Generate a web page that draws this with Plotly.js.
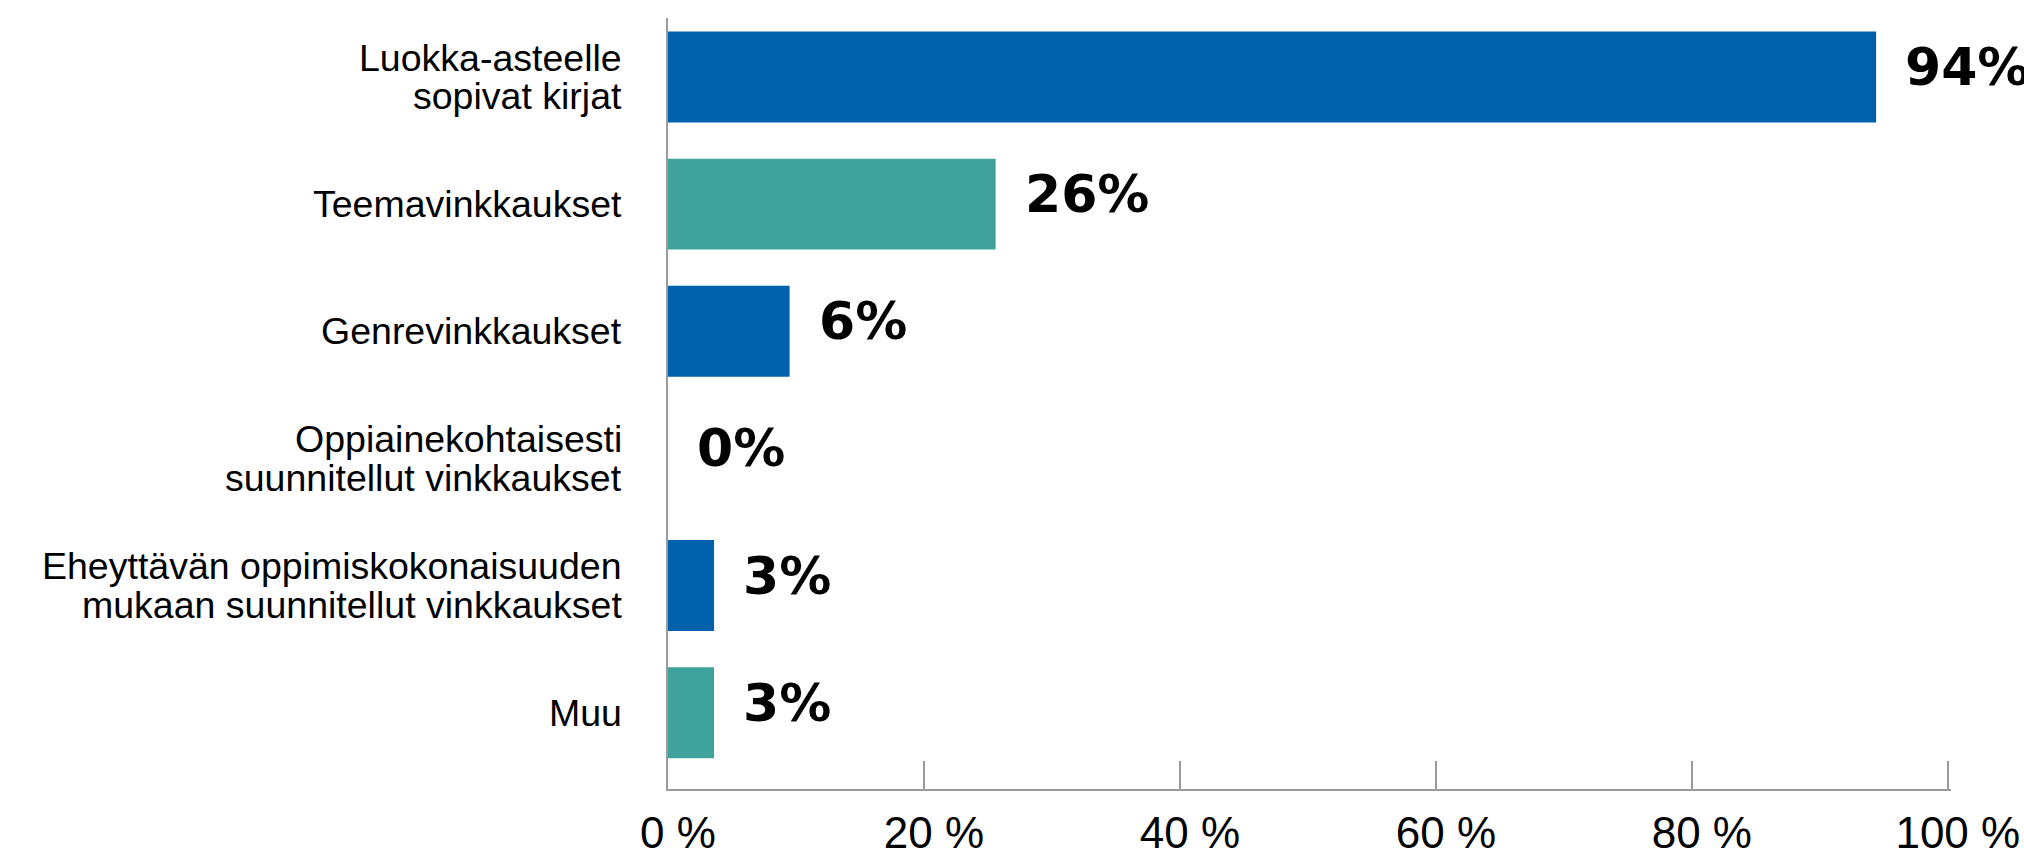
<!DOCTYPE html>
<html>
<head>
<meta charset="utf-8">
<script src="https://cdn.plot.ly/plotly-3.0.1.min.js"></script>
<style>
  html, body { margin: 0; padding: 0; background: #ffffff; }
  #chart { width: 2024px; height: 858px; }
</style>
</head>
<body>
<div id="chart"></div>
<script>
// ---- data ----
var categories = [
  "Luokka-asteelle<br>sopivat kirjat",
  "Teemavinkkaukset",
  "Genrevinkkaukset",
  "Oppiainekohtaisesti<br>suunnitellut vinkkaukset",
  "Eheyttävän oppimiskokonaisuuden<br>mukaan suunnitellut vinkkaukset",
  "Muu"
];
var barValues = [94.4, 25.6, 9.5, 0, 3.6, 3.6];
var valueLabels = ["94%", "26%", "6%", "0%", "3%", "3%"];
var tickValues = [0, 20, 40, 60, 80, 100];
var tickLabels = ["0 %", "20 %", "40 %", "60 %", "80 %", "100 %"];

// ---- style ----
var BLUE = "#0061ad";
var TEAL = "#40a39b";
var barColors = categories.map(function (_, i) { return i % 2 === 0 ? BLUE : TEAL; });
var AXIS_GRAY = "#9b9b9b";
var FONT = "Liberation Sans, Arial, Helvetica, sans-serif";
var BOLD_FONT = "DejaVu Sans, Liberation Sans, Arial, sans-serif";

var trace = {
  type: "bar",
  orientation: "h",
  y: categories.map(function (_, i) { return i; }),
  x: barValues,
  marker: { color: barColors, line: { width: 0 } },
  hoverinfo: "skip",
  showlegend: false
};

var annotations = [];
// value labels
categories.forEach(function (_, i) {
  annotations.push({
    xref: "x", yref: "y",
    x: barValues[i], y: i,
    text: valueLabels[i],
    showarrow: false,
    xanchor: "left", yanchor: "middle",
    xshift: 27, yshift: 10,
    font: { family: BOLD_FONT, size: 52, color: "#000000", weight: "bold" }
  });
});
// category labels (each line separately to control line spacing)
var LINE_GAP = 38.5;
categories.forEach(function (label, i) {
  var lines = label.split("<br>");
  lines.forEach(function (line, j) {
    annotations.push({
      xref: "paper", yref: "y",
      x: 0, y: i,
      text: line,
      showarrow: false,
      xanchor: "right", yanchor: "middle",
      xshift: -44,
      yshift: -(j - (lines.length - 1) / 2) * LINE_GAP,
      font: { family: FONT, size: 37.5, color: "#000000" }
    });
  });
});

var layout = {
  width: 2024,
  height: 858,
  margin: { l: 668, r: 73, t: 18, b: 69, pad: 0 },
  paper_bgcolor: "#ffffff",
  plot_bgcolor: "#ffffff",
  bargap: 0.285,
  showlegend: false,
  xaxis: {
    range: [0, 100.25],
    tickmode: "array",
    tickvals: tickValues,
    ticktext: tickLabels,
    ticks: "inside",
    ticklen: 28,
    tickwidth: 2,
    tickcolor: AXIS_GRAY,
    showgrid: false,
    zeroline: false,
    showline: true,
    linecolor: AXIS_GRAY,
    linewidth: 2,
    ticklabelshift: 10,
    ticklabelstandoff: 4,
    ticklabeloverflow: "allow",
    tickfont: { family: FONT, size: 44, color: "#000000" },
    fixedrange: true
  },
  yaxis: {
    range: [5.6, -0.464],
    showticklabels: false,
    ticks: "",
    showgrid: false,
    zeroline: false,
    showline: true,
    linecolor: AXIS_GRAY,
    linewidth: 2,
    fixedrange: true
  },
  annotations: annotations
};

Plotly.newPlot("chart", [trace], layout, { displayModeBar: false, staticPlot: true });
</script>
</body>
</html>
